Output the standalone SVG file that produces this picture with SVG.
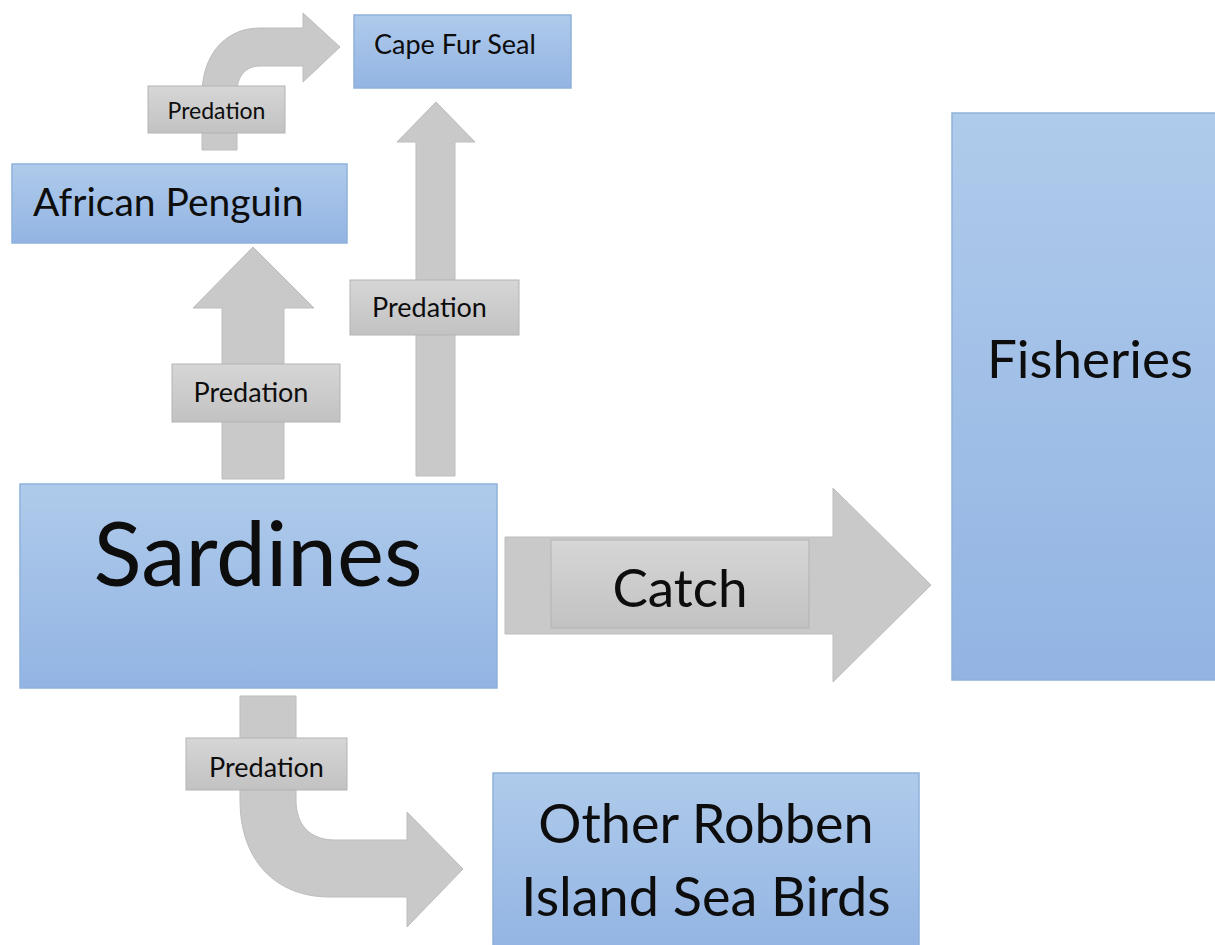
<svg xmlns="http://www.w3.org/2000/svg" width="1215" height="945" viewBox="0 0 1215 945">
<defs>
<linearGradient id="blue" x1="0" y1="0" x2="0" y2="1"><stop offset="0" stop-color="#afcbeb"/><stop offset="1" stop-color="#93b4e3"/></linearGradient>
<linearGradient id="gray" x1="0" y1="0" x2="0" y2="1"><stop offset="0" stop-color="#d6d6d6"/><stop offset="1" stop-color="#c2c2c2"/></linearGradient>
</defs>
<style>
.box{fill:url(#blue);stroke:#8fb1da;stroke-width:1.5}
.arrow{fill:#c9c9c9;stroke:#bdbdbd;stroke-width:1}
.lbl{fill:url(#gray);stroke:#b3b3b3;stroke-width:1}
text{font-family:Lato,"Liberation Sans",sans-serif;fill:#0d0d0d}
</style>
<rect width="1215" height="945" fill="#ffffff"/>
<g id="connectors">
<g id="c-penguin-seal">
<path class="arrow" d="M202,150 L202,95 C202,55 225,28 260,28 L303,28 L303,13 L340,47 L303,82 L303,66 L260,66 C246,66 237,76 237,92 L237,150 Z"/>
<rect class="lbl" x="148" y="86" width="137" height="47"/>
<text x="216.5" y="119" font-size="23" text-anchor="middle">Predation</text>
</g>
<g id="c-sardines-penguin">
<path class="arrow" d="M222,479 L222,308 L193,308 L253,247 L314,308 L284,308 L284,479 Z"/>
<rect class="lbl" x="172" y="364" width="168" height="58"/>
<text x="251" y="402" font-size="27" text-anchor="middle">Predation</text>
</g>
<g id="c-sardines-seal">
<path class="arrow" d="M416,476 L416,142 L397,142 L436,102 L475,142 L455,142 L455,476 Z"/>
<rect class="lbl" x="350" y="280" width="169" height="55"/>
<text x="429.5" y="317" font-size="27" text-anchor="middle">Predation</text>
</g>
<g id="c-sardines-fisheries">
<path class="arrow" d="M505,537 L833,537 L833,488 L931,585 L833,682 L833,634 L505,634 Z"/>
<rect class="lbl" x="551" y="540" width="258" height="88"/>
<text x="680" y="607" font-size="53" text-anchor="middle">Catch</text>
</g>
<g id="c-sardines-birds">
<path class="arrow" d="M240,696 L296,696 L296,800 C296,825 310,840 335,840 L407,840 L407,812 L463,869 L407,927 L407,897 L330,897 C275,897 240,860 240,800 Z"/>
<rect class="lbl" x="186" y="738" width="161" height="52"/>
<text x="266.5" y="777" font-size="27" text-anchor="middle">Predation</text>
</g>
</g>
<g id="cape-fur-seal">
<rect class="box" x="354" y="15" width="217" height="73"/>
<text x="374" y="54" font-size="27">Cape Fur Seal</text>
</g>
<g id="african-penguin">
<rect class="box" x="12" y="164" width="335" height="79"/>
<text x="33" y="216" font-size="39">African Penguin</text>
</g>
<g id="sardines">
<rect class="box" x="20" y="484" width="477" height="204"/>
<text x="258" y="586" font-size="89" text-anchor="middle">Sardines</text>
</g>
<g id="fisheries">
<rect class="box" x="952" y="113" width="270" height="567"/>
<text x="1090" y="378" font-size="53" text-anchor="middle">Fisheries</text>
</g>
<g id="other-birds">
<rect class="box" x="493" y="773" width="426" height="180"/>
<text x="706" y="843" font-size="54" text-anchor="middle">Other Robben</text>
<text x="706" y="916" font-size="54" text-anchor="middle">Island Sea Birds</text>
</g>
</svg>
